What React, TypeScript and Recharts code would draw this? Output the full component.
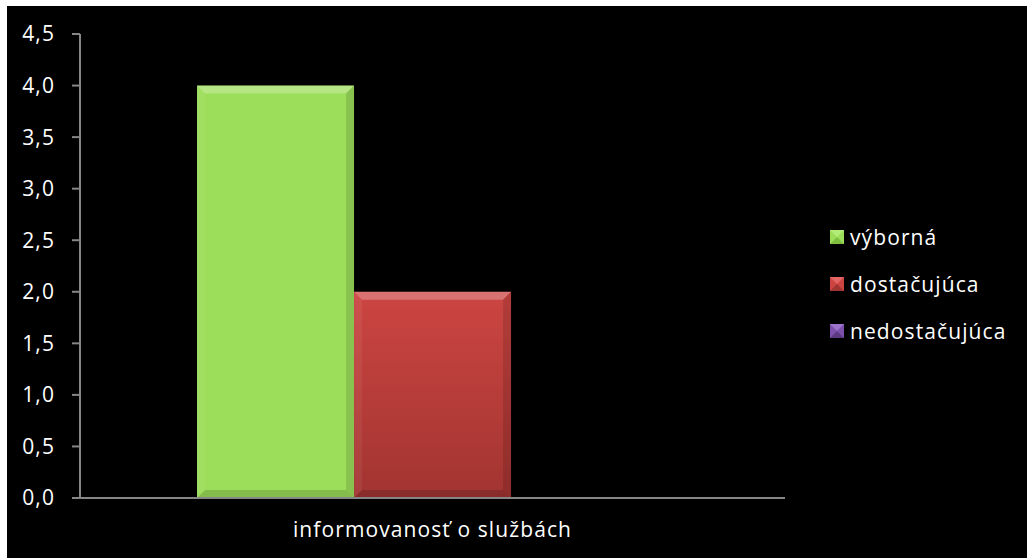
import React from "react";
import { BarChart, Bar, XAxis, YAxis, Legend } from "recharts";

// kategória a hodnoty
const categories = ["informovanosť o službách"];
const vyborna = [4];
const dostatocna = [2];
const nedostatocna = [0];
const yTicks = [0, 0.5, 1, 1.5, 2, 2.5, 3, 3.5, 4, 4.5];

const seriesInfo = [
  { key: "vyborna", name: "výborná", top: "#b4ec79", main: "#9cde5a", dark: "#7fbf40" },
  { key: "dostatocna", name: "dostačujúca", top: "#e46664", main: "#cc4542", dark: "#a23431" },
  { key: "nedostatocna", name: "nedostačujúca", top: "#9d74c9", main: "#7d50ab", dark: "#5c3a82" },
];

const data = categories.map((c, i) => ({
  name: c,
  vyborna: vyborna[i],
  dostatocna: dostatocna[i],
  nedostatocna: nedostatocna[i],
}));

const FONT = "'Open Sans', sans-serif";
const FS = 21;
const LS = 1.1;

const BevelBar = (props: any) => {
  const { x, y, width, height, dataKey } = props;
  if (!height || height <= 0) return null;
  const b = 8;
  return (
    <g>
      <rect x={x} y={y} width={width} height={height} fill={`url(#grad-${dataKey})`} />
      <polygon points={`${x},${y} ${x + width},${y} ${x + width - b},${y + b} ${x + b},${y + b}`} fill="#ffffff" opacity={0.25} />
      <polygon points={`${x + width},${y} ${x + width},${y + height} ${x + width - b},${y + height - b} ${x + width - b},${y + b}`} fill="#000000" opacity={0.12} />
      <polygon points={`${x},${y + height} ${x + width},${y + height} ${x + width - b},${y + height - b} ${x + b},${y + height - b}`} fill="#000000" opacity={0.15} />
      <polygon points={`${x},${y} ${x + b},${y + b} ${x + b},${y + height - b} ${x},${y + height}`} fill="#ffffff" opacity={0.06} />
    </g>
  );
};

const renderLegend = () => (
  <div style={{ fontFamily: FONT, fontSize: FS, letterSpacing: LS, color: "#fff" }}>
    {seriesInfo.map((s) => (
      <div key={s.key} style={{ display: "flex", alignItems: "center", height: 47 }}>
        <svg width={14} height={14} style={{ marginRight: 6 }}>
          <rect x={0} y={0} width={14} height={14} fill={s.main} />
          <polygon points="0,0 14,0 7,7" fill={s.top} />
          <polygon points="0,14 14,14 7,7" fill={s.dark} />
        </svg>
        <span>{s.name}</span>
      </div>
    ))}
  </div>
);

const fmt = (v: number) => v.toFixed(1).replace(".", ",");

export default function App() {
  return (
    <div style={{ position: "fixed", left: 0, top: 0, width: 1027, height: 558, background: "#fff" }}>
      <div style={{ position: "absolute", left: 7, top: 6, width: 1020, height: 552, background: "#000" }}>
        <BarChart
          width={1020}
          height={552}
          data={data}
          margin={{ top: 28, right: 52, left: 0, bottom: 0 }}
          barCategoryGap="16.6%"
          barGap={0}
        >
          <defs>
            {seriesInfo.map((s) => (
              <linearGradient key={s.key} id={`grad-${s.key}`} x1="0" y1="0" x2="0" y2="1">
                <stop offset="0%" stopColor={s.main} />
                <stop offset="100%" stopColor={s.key === "vyborna" ? s.main : s.dark} />
              </linearGradient>
            ))}
          </defs>
          <XAxis
            dataKey="name"
            height={60}
            axisLine={{ stroke: "#868686", strokeWidth: 2 }}
            tickLine={false}
            tick={{ fill: "#fff", fontFamily: FONT, fontSize: FS, letterSpacing: LS }}
            tickMargin={18}
          />
          <YAxis
            width={73}
            domain={[0, 4.5]}
            ticks={yTicks}
            tickFormatter={fmt}
            axisLine={{ stroke: "#868686", strokeWidth: 2 }}
            tickLine={{ stroke: "#868686", strokeWidth: 2 }}
            tickSize={8}
            tickMargin={17}
            tick={{ fill: "#fff", fontFamily: FONT, fontSize: FS, letterSpacing: LS }}
          />
          <Legend
            layout="vertical"
            align="right"
            verticalAlign="middle"
            content={renderLegend}
            wrapperStyle={{ left: 823, top: 207, width: 190 }}
          />
          {seriesInfo.map((s) => (
            <Bar
              key={s.key}
              dataKey={s.key}
              name={s.name}
              fill={s.main}
              shape={<BevelBar dataKey={s.key} />}
              isAnimationActive={false}
            />
          ))}
        </BarChart>
      </div>
    </div>
  );
}
